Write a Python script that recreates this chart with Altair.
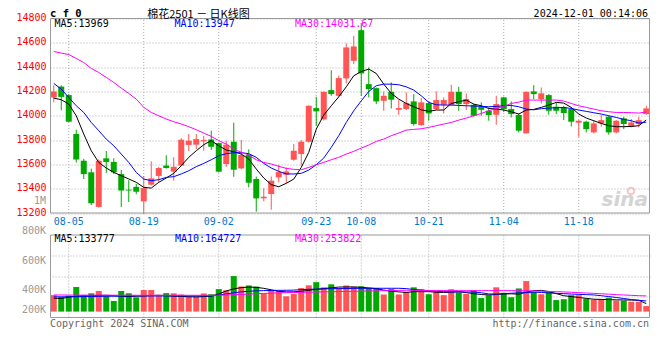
import altair as alt
import pandas as pd

# ---------------- data ----------------
dates = [
    "08-01", "08-02", "08-05", "08-06", "08-07", "08-08", "08-09", "08-12", "08-13", "08-14",
    "08-15", "08-16", "08-19", "08-20", "08-21", "08-22", "08-23", "08-26", "08-27", "08-28",
    "08-29", "08-30", "09-02", "09-03", "09-04", "09-05", "09-06", "09-09", "09-10", "09-11",
    "09-12", "09-13", "09-18", "09-19", "09-20", "09-23", "09-24", "09-25", "09-26", "09-27",
    "09-30", "10-08", "10-09", "10-10", "10-11", "10-14", "10-15", "10-16", "10-17", "10-18",
    "10-21", "10-22", "10-23", "10-24", "10-25", "10-28", "10-29", "10-30", "10-31", "11-01",
    "11-04", "11-05", "11-06", "11-07", "11-08", "11-11", "11-12", "11-13", "11-14", "11-15",
    "11-18", "11-19", "11-20", "11-21", "11-22", "11-25", "11-26", "11-27", "11-28", "11-29",
]
opens = [
    14150, 14240, 14170, 13850, 13630, 13535, 13250, 13650, 13620, 13520,
    13392, 13415, 13295, 13433, 13505, 13590, 13540, 13590, 13760, 13762,
    13790, 13805, 13775, 13603, 13786, 13567, 13677, 13480, 13321, 13356,
    13493, 13515, 13638, 13685, 13786, 14063, 13970, 14211, 14164, 14307,
    14452, 14704, 14260, 14227, 14123, 14197, 14049, 14055, 14118, 13923,
    14104, 14055, 14090, 14090, 14197, 14096, 14090, 14074, 14041, 14008,
    14151, 14055, 14006, 13855, 14200, 14137, 14170, 14074, 14068, 14055,
    13943, 13951, 13863, 13937, 13992, 13863, 13978, 13910, 13932, 14014,
]
highs = [
    14250, 14250, 14180, 13885, 13645, 13565, 13640, 13710, 13650, 13555,
    13470, 13440, 13505, 13625, 13580, 13675, 13658, 13815, 13850, 13850,
    13835, 13877, 13780, 13795, 13943, 13800, 13723, 13500, 13405, 13500,
    13597, 13575, 13767, 13800, 14085, 14156, 14200, 14375, 14330, 14595,
    14658, 14760, 14397, 14233, 14200, 14274, 14132, 14192, 14178, 14145,
    14118, 14200, 14151, 14255, 14238, 14184, 14096, 14110, 14069, 14164,
    14156, 14118, 14020, 14200, 14252, 14233, 14178, 14110, 14082, 14069,
    13964, 13959, 13964, 14005, 14000, 13964, 13992, 13973, 13992, 14082,
]
lows = [
    14110, 14045, 13948, 13615, 13480, 13265, 13245, 13530, 13520, 13250,
    13290, 13355, 13190, 13425, 13455, 13565, 13466, 13585, 13710, 13725,
    13712, 13718, 13535, 13580, 13498, 13560, 13411, 13211, 13296, 13227,
    13452, 13445, 13630, 13590, 13780, 13918, 13960, 14164, 14156, 14266,
    14425, 14164, 14150, 14096, 14041, 14060, 14008, 14047, 13918, 13918,
    13959, 14047, 14019, 14082, 14041, 14047, 13992, 14000, 13959, 13926,
    14030, 13986, 13863, 13855, 14137, 14101, 14008, 14014, 13964, 13912,
    13827, 13863, 13855, 13910, 13844, 13855, 13890, 13904, 13904, 14008,
]
closes = [
    14200, 14155, 13951, 13640, 13520, 13280, 13630, 13620, 13535, 13385,
    13385, 13375, 13405, 13485, 13570, 13570, 13580, 13803, 13795, 13808,
    13800, 13745, 13540, 13762, 13556, 13677, 13449, 13320, 13334, 13466,
    13537, 13542, 13712, 13786, 14082, 14036, 14197, 14178, 14310, 14562,
    14570, 14348, 14219, 14118, 14164, 14132, 14063, 14104, 13932, 14110,
    14019, 14129, 14129, 14197, 14096, 14137, 14000, 14049, 14006, 14096,
    14055, 14014, 13877, 14197, 14178, 14184, 14041, 14041, 14022, 13951,
    13959, 13890, 13937, 13964, 13863, 13959, 13932, 13945, 13964, 14060,
]
volume_k = [
    280, 249, 270, 418, 278, 310, 350, 262, 181, 350,
    311, 243, 367, 367, 280, 314, 310, 290, 255, 255,
    308, 295, 382, 362, 603, 427, 444, 424, 305, 362,
    350, 260, 300, 400, 446, 500, 412, 463, 401, 443,
    424, 430, 401, 401, 291, 382, 291, 336, 412, 380,
    295, 334, 280, 380, 325, 300, 362, 230, 278, 412,
    320, 244, 393, 518, 334, 295, 331, 196, 210, 278,
    278, 220, 202, 207, 235, 187, 187, 168, 168, 94,
]
ma5 = [
    14145, 14132, 14096, 14000, 13849, 13712, 13616, 13570, 13534, 13507,
    13480, 13452, 13411, 13405, 13452, 13488, 13526, 13589, 13658, 13712,
    13762, 13795, 13753, 13718, 13704, 13685, 13644, 13562, 13488, 13433,
    13416, 13444, 13479, 13575, 13699, 13890, 14006, 14082, 14156, 14238,
    14329, 14364, 14384, 14348, 14260, 14184, 14137, 14101, 14074, 14049,
    14036, 14047, 14047, 14101, 14115, 14129, 14096, 14082, 14060, 14055,
    14047, 14033, 14014, 14047, 14052, 14069, 14088, 14110, 14104, 14069,
    14014, 13981, 13959, 13937, 13918, 13910, 13910, 13912, 13918, 13965,
]
ma10 = [
    14266, 14219, 14151, 14082, 14027, 13945, 13877, 13808, 13753, 13685,
    13616, 13534, 13479, 13466, 13474, 13493, 13499, 13521, 13548, 13581,
    13608, 13638, 13671, 13688, 13696, 13696, 13688, 13658, 13608, 13570,
    13543, 13521, 13521, 13526, 13553, 13597, 13652, 13740, 13836, 13945,
    14041, 14123, 14200, 14247, 14260, 14260, 14255, 14238, 14211, 14164,
    14110, 14090, 14088, 14088, 14085, 14082, 14080, 14077, 14074, 14077,
    14082, 14085, 14074, 14055, 14049, 14058, 14063, 14066, 14068, 14060,
    14047, 14036, 14025, 14014, 14000, 13986, 13970, 13959, 13940, 13947,
]
ma30 = [
    14529, 14515, 14504, 14471, 14438, 14389, 14356, 14315, 14274, 14227,
    14184, 14137, 14069, 14027, 14000, 13973, 13951, 13932, 13910, 13885,
    13858, 13830, 13795, 13767, 13726, 13699, 13677, 13638, 13616, 13603,
    13584, 13567, 13559, 13556, 13575, 13597, 13616, 13638, 13658, 13685,
    13707, 13734, 13759, 13789, 13808, 13836, 13858, 13882, 13888, 13893,
    13904, 13918, 13932, 13945, 13964, 13981, 14000, 14019, 14041, 14060,
    14077, 14101, 14112, 14129, 14129, 14129, 14129, 14129, 14121, 14101,
    14082, 14069, 14055, 14041, 14033, 14027, 14027, 14025, 14022, 14031,
]
vma5 = [
    228, 222, 245, 262, 266, 268, 275, 277, 270, 262,
    255, 262, 266, 272, 277, 272, 262, 258, 252, 250,
    255, 262, 300, 350, 385, 407, 416, 412, 395, 370,
    345, 335, 336, 345, 360, 378, 390, 405, 416, 418,
    418, 412, 402, 390, 365, 345, 335, 325, 339, 339,
    339, 328, 325, 330, 339, 322, 305, 290, 283, 290,
    300, 302, 296, 330, 355, 360, 340, 305, 270, 255,
    240, 225, 210, 207, 204, 200, 198, 196, 192, 136,
]
vma10 = [
    250, 251, 252, 253, 254, 256, 258, 260, 262, 264,
    266, 266, 266, 266, 266, 266, 266, 266, 266, 266,
    266, 266, 280, 300, 320, 335, 345, 352, 356, 359,
    361, 362, 365, 372, 378, 382, 386, 389, 390, 392,
    394, 395, 396, 396, 396, 396, 396, 390, 375, 365,
    355, 345, 338, 335, 333, 333, 333, 320, 300, 298,
    305, 312, 318, 322, 330, 325, 318, 310, 305, 298,
    292, 288, 283, 270, 255, 240, 222, 205, 192, 181,
]
vma30 = [
    282, 282, 281, 281, 280, 280, 279, 279, 278, 278,
    278, 277, 277, 277, 277, 277, 277, 277, 277, 277,
    277, 277, 278, 282, 287, 292, 297, 303, 308, 313,
    318, 322, 324, 327, 330, 332, 335, 337, 340, 342,
    345, 347, 350, 352, 355, 357, 360, 362, 360, 359,
    358, 357, 357, 356, 356, 356, 356, 356, 356, 356,
    356, 356, 355, 354, 350, 346, 342, 338, 334, 328,
    322, 316, 310, 303, 296, 288, 282, 276, 270, 266,
]
tick_dates = ["08-05", "08-19", "09-02", "09-23", "10-08", "10-21", "11-04", "11-18"]
price_ticks = [13200, 13400, 13600, 13800, 14000, 14200, 14400, 14600, 14800]
vol_grid_k = [250, 600, 950]
ma_names = ["MA5", "MA10", "MA30"]
ma_colors = ["#000000", "#0000ff", "#ff00ff"]
price_legend = ["MA5:13969", "MA10:13947", "MA30:14031.67"]
vol_legend = ["MA5:133777", "MA10:164727", "MA30:253822"]
vol_axis_labels = ["800K", "600K", "400K", "200K"]

# ---------------- styling ----------------
RED = "#ff5555"
GREEN = "#00a800"
GRID = "#aaaaaa"
FRAME = "#999999"
MONO = "DejaVu Sans Mono"
W, H = 600, 299

price_scale = alt.Scale(domain=[13200, 14800], range=[194.5, 0], zero=False, nice=False)
vol_scale = alt.Scale(domain=[-100, 1300], range=[299, 216.5], zero=False, nice=False)
x_scale = alt.Scale(domain=dates, paddingInner=0.2, paddingOuter=0.1)
X = alt.X("date:O", scale=x_scale, axis=None, title=None)

candles = pd.DataFrame(dict(date=dates, open=opens, high=highs, low=lows,
                            close=closes, vol=volume_k))
updown = alt.condition("datum.close >= datum.open", alt.value(RED), alt.value(GREEN))

rows = []
for name, arr in zip(ma_names, [ma5, ma10, ma30]):
    rows += [dict(date=d, series=name, value=v) for d, v in zip(dates, arr)]
price_ma_df = pd.DataFrame(rows)
rows = []
for name, arr in zip(ma_names, [vma5, vma10, vma30]):
    rows += [dict(date=d, series=name, value=v) for d, v in zip(dates, arr)]
vol_ma_df = pd.DataFrame(rows)
ticks_df = pd.DataFrame({"date": tick_dates})
one = pd.DataFrame({"k": [0]})

series_color = alt.Color("series:N", legend=None,
                         scale=alt.Scale(domain=ma_names, range=ma_colors))

# vertical dotted grid lines (price and volume panels)
vgrid_price = alt.Chart(ticks_df).mark_rule(color=GRID, strokeDash=[1, 2], strokeWidth=1).encode(
    x=X,
    y=alt.YDatum(13200, type="quantitative", scale=price_scale, axis=None),
    y2=alt.Y2Datum(14800),
)
vgrid_vol = alt.Chart(ticks_df).mark_rule(color=GRID, strokeDash=[1, 2], strokeWidth=1).encode(
    x=X,
    y=alt.YDatum(-100, type="quantitative", scale=vol_scale, axis=None),
    y2=alt.Y2Datum(1300),
)

price_axis = alt.Axis(values=price_ticks, orient="left", grid=True, gridDash=[1, 2],
                      gridColor=GRID, domain=False, ticks=False, title=None, format="d",
                      labelColor="#ff0000", labelFont=MONO, labelFontSize=10,
                      labelPadding=4, labelOffset=-1)
wicks = alt.Chart(candles).mark_rule(strokeWidth=1).encode(
    x=X,
    y=alt.Y("low:Q", scale=price_scale, axis=price_axis),
    y2="high:Q",
    color=updown,
)
bodies = alt.Chart(candles).mark_bar().encode(
    x=X,
    y=alt.Y("open:Q", scale=price_scale, axis=None),
    y2="close:Q",
    color=updown,
)
price_ma = alt.Chart(price_ma_df).mark_line(strokeWidth=1).encode(
    x=X,
    y=alt.Y("value:Q", scale=price_scale, axis=None),
    color=series_color,
)

vol_axis = alt.Axis(values=vol_grid_k, orient="right", grid=True, gridDash=[1, 2],
                    gridColor=GRID, domain=False, ticks=False, labels=False, title=None)
vbars = alt.Chart(candles).mark_bar().encode(
    x=X,
    y=alt.Y("vol:Q", scale=vol_scale, axis=vol_axis),
    color=updown,
)
vol_ma = alt.Chart(vol_ma_df).mark_line(strokeWidth=1).encode(
    x=X,
    y=alt.Y("value:Q", scale=vol_scale, axis=None),
    color=series_color,
)

frame_price = alt.Chart(one).mark_rect(fill="transparent", stroke=FRAME, strokeWidth=1).encode(
    x=alt.value(0.5), x2=alt.value(599.5),
    y=alt.YDatum(14800, type="quantitative", scale=price_scale, axis=None),
    y2=alt.Y2Datum(13200),
)
frame_vol = alt.Chart(one).mark_rect(fill="transparent", stroke=FRAME, strokeWidth=1).encode(
    x=alt.value(0.5), x2=alt.value(599.5),
    y=alt.YDatum(1300, type="quantitative", scale=vol_scale, axis=None),
    y2=alt.Y2Datum(-100),
)

date_labels = alt.Chart(ticks_df).mark_text(
    font=MONO, fontSize=10, color="#0078d0", baseline="middle"
).encode(x=X, text="date:N", y=alt.value(203.5))


def label(txt, x, y, color="#000000", align="left", size=10, font=MONO,
          weight="normal", style="normal"):
    return alt.Chart(one).mark_text(
        text=txt, align=align, baseline="middle", fontSize=size, font=font,
        color=color, fontWeight=weight, fontStyle=style
    ).encode(x=alt.value(x), y=alt.value(y))


texts = [
    label("c f 0", 0, -4.5, size=10.5, weight="bold"),
    label("棉花2501 － 日K线图", 148.5, -3.8, align="center", size=11,
          font="Noto Sans CJK SC"),
    label("2024-12-01 00:14:06", 598, -5.0, align="right"),
    label(price_legend[0], 4.5, 5.4, color=ma_colors[0]),
    label(price_legend[1], 124.5, 5.4, color=ma_colors[1]),
    label(price_legend[2], 245, 5.4, color=ma_colors[2]),
    label(vol_legend[0], 4.5, 220, color=ma_colors[0]),
    label(vol_legend[1], 125, 220, color=ma_colors[1]),
    label(vol_legend[2], 245, 220, color=ma_colors[2]),
    label("1M", -4, 182.5, color="#999999", align="right"),
    label(vol_axis_labels[0], -4, 212.2, color="#999999", align="right"),
    label(vol_axis_labels[1], -4, 242.5, color="#999999", align="right"),
    label(vol_axis_labels[2], -4, 271.5, color="#999999", align="right"),
    label(vol_axis_labels[3], -4, 291.5, color="#999999", align="right"),
    label("Copyright 2024 SINA.COM", 0, 305.5, color="#666666"),
    label("http://finance.sina.com.cn", 599, 305.5, color="#666666", align="right"),
    label("sina", 598, 181, color="#d4d4d4", align="right", size=20,
          font="DejaVu Sans", weight="bold", style="italic"),
]

# small pink "eye" of the sina watermark
eye = alt.Chart(one).mark_point(shape="circle", filled=False, color="#f2b0b0",
                                size=45, strokeWidth=2).encode(
    x=alt.value(581), y=alt.value(172.5))

chart = alt.layer(
    vgrid_price, vgrid_vol, wicks, bodies, price_ma, vbars, vol_ma,
    frame_price, frame_vol, date_labels, eye, *texts
).resolve_scale(y="independent").properties(
    width=W, height=H,
    padding={"left": 42, "top": 10.5, "right": 2, "bottom": 33},
    autosize=alt.AutoSizeParams(type="none"),
    background="white",
).configure_view(strokeWidth=0)

chart.save("out.html", embed_options={"renderer": "svg", "actions": False})
